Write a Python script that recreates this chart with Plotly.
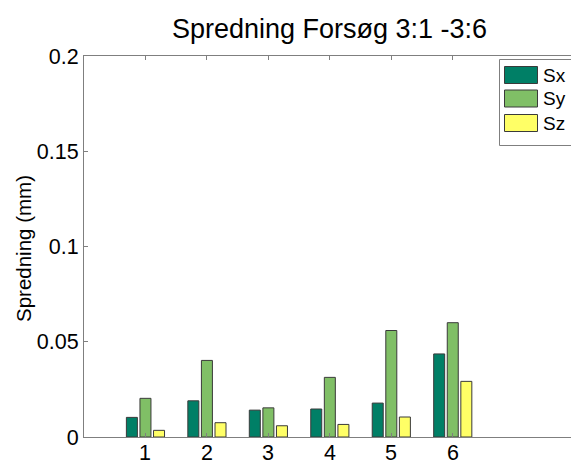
import plotly.graph_objects as go

# ---- data ----
groups = [1, 2, 3, 4, 5, 6]
series_names = ["Sx", "Sy", "Sz"]
sx = [0.0103, 0.0190, 0.0141, 0.0147, 0.0178, 0.0436]
sy = [0.0203, 0.0402, 0.0153, 0.0313, 0.0559, 0.0600]
sz = [0.0035, 0.0075, 0.0059, 0.0066, 0.0105, 0.0292]
series_values = [sx, sy, sz]
series_colors = ["#007F66", "#80BF66", "#FFFF66"]
y_ticks = [0, 0.05, 0.1, 0.15, 0.2]
y_ticktext = ["0", "0.05", "0.1", "0.15", "0.2"]
x_ticktext = ["1", "2", "3", "4", "5", "6"]

FONT = "Liberation Sans, Arial, Helvetica, sans-serif"
W, H = 571, 461
ML, MR, MT, MB = 84, 0, 56, 24
PW, PH = W - ML - MR, H - MT - MB

def px(x):
    return (x - ML) / PW

def py(y):
    return (H - MB - y) / PH

fig = go.Figure()
for name, vals, col in zip(series_names, series_values, series_colors):
    fig.add_trace(go.Bar(
        x=groups, y=vals, name=name,
        marker=dict(color=col, line=dict(color="#3a3a3a", width=1)),
        showlegend=False,
    ))

# custom MATLAB-like legend
shapes = [dict(type="rect", xref="paper", yref="paper",
               x0=px(499.5), x1=px(590), y0=py(145.5), y1=py(59.5),
               fillcolor="white", line=dict(color="#7f7f7f", width=1), layer="above")]
annotations = []
row_y = [75, 98.5, 123]
for name, col, ry in zip(series_names, series_colors, row_y):
    shapes.append(dict(type="rect", xref="paper", yref="paper",
                       x0=px(504.5), x1=px(537.5), y0=py(ry + 8.5), y1=py(ry - 8.5),
                       fillcolor=col, line=dict(color="#3a3a3a", width=1), layer="above"))
    annotations.append(dict(text=name, xref="paper", yref="paper",
                            x=px(541), y=py(ry), xanchor="left", yanchor="middle",
                            showarrow=False, font=dict(family=FONT, size=19, color="black")))

# x tick labels (placed closer to the axis, MATLAB style)
for g, t in zip(groups, x_ticktext):
    annotations.append(dict(text=t, xref="x", yref="paper", x=g, y=py(453.5),
                            xanchor="center", yanchor="middle", showarrow=False,
                            font=dict(family=FONT, size=21.5, color="black")))

annotations.append(dict(text="Spredning (mm)", xref="paper", yref="paper",
                        x=px(23), y=py(249), xanchor="center", yanchor="middle",
                        textangle=-90, showarrow=False,
                        font=dict(family=FONT, size=20.5, color="black")))

fig.update_layout(
    width=W, height=H,
    margin=dict(l=ML, r=MR, t=MT, b=MB, pad=0, autoexpand=False),
    paper_bgcolor="white", plot_bgcolor="white",
    barmode="group", bargap=0.337, bargroupgap=0.19,
    title=dict(text="Spredning Forsøg 3:1 -3:6", x=329.5 / W, xanchor="center",
               xref="container", y=1 - 29 / H, yanchor="middle", yref="container",
               font=dict(family=FONT, size=27, color="black")),
    shapes=shapes, annotations=annotations,
    xaxis=dict(range=[0, (W - ML) / 61.46], tickvals=groups, showticklabels=False,
               ticks="inside", ticklen=4, tickcolor="#7f7f7f", showline=True,
               linecolor="#7f7f7f", linewidth=1, mirror="ticks", showgrid=False,
               zeroline=False, automargin=False),
    yaxis=dict(range=[0, 0.2], tickvals=y_ticks, ticktext=y_ticktext,
               ticks="inside", ticklen=4, tickcolor="#7f7f7f", showline=True,
               linecolor="#7f7f7f", linewidth=1, mirror=False, showgrid=False,
               zeroline=False, automargin=False,
               tickfont=dict(family=FONT, size=21.5, color="black")),
    font=dict(family=FONT),
)

fig.write_html("out.html")
